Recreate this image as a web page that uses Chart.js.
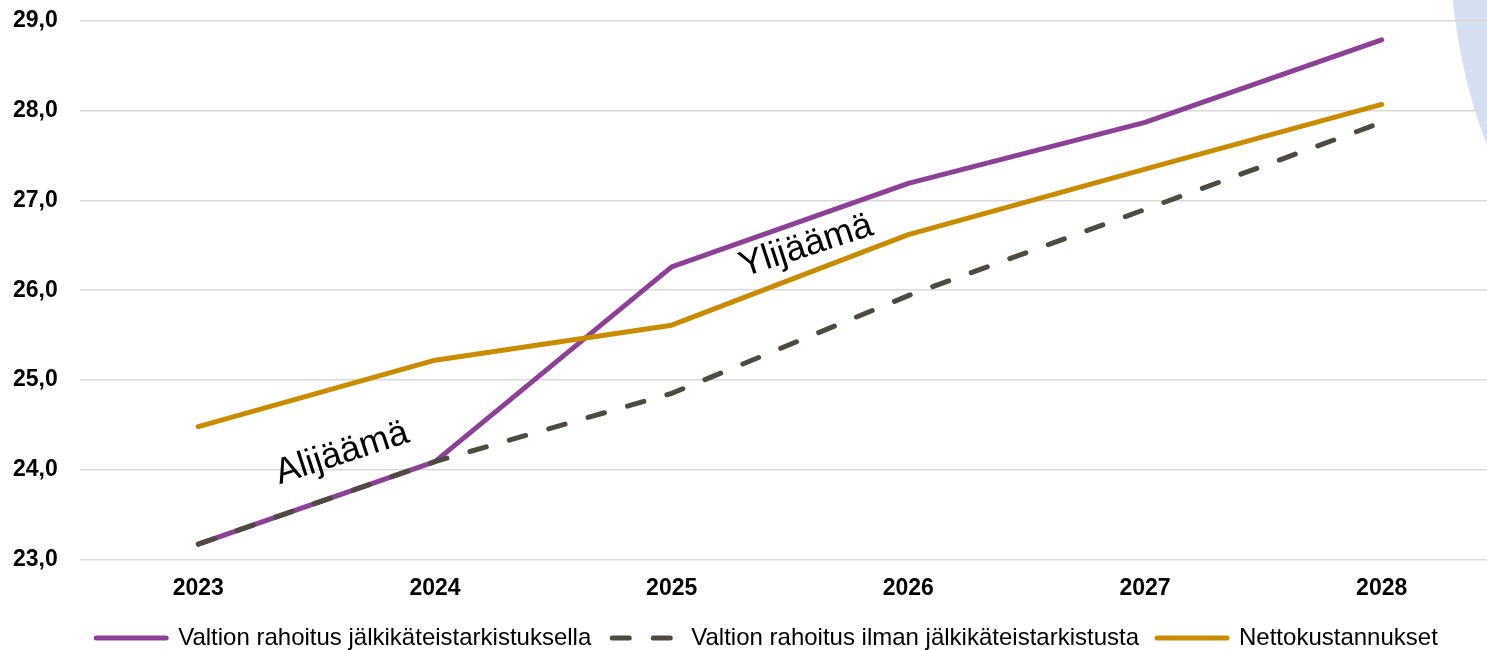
<!DOCTYPE html>
<html>
<head>
<meta charset="utf-8">
<script src="https://cdn.jsdelivr.net/npm/chart.js@4/dist/chart.umd.min.js"></script>
<style>
html,body{margin:0;padding:0;background:#fff;overflow:hidden;width:1487px;height:650px;}
#wrap{width:1500px;height:650px;}
</style>
</head>
<body>
<div id="wrap"><canvas id="c" width="1500" height="650"></canvas></div>
<script>
const categories = ['2023', '2024', '2025', '2026', '2027', '2028'];
const withRevision = [23.17, 24.09, 26.26, 27.19, 27.87, 28.79];
const withoutRevision = [23.17, 24.09, 24.85, 25.94, 26.90, 27.87];
const netCosts = [24.48, 25.22, 25.61, 26.62, 27.35, 28.07];
const seriesNames = ['Valtion rahoitus jälkikäteistarkistuksella', 'Valtion rahoitus ilman jälkikäteistarkistusta', 'Nettokustannukset'];
const yTicks = { min: 23, max: 29, step: 1 };
const annotations = [
  { text: 'Alijäämä', x: 0.607, y: 24.18 },
  { text: 'Ylijäämä', x: 2.568, y: 26.49 }
];

const FONT = '"Liberation Sans", Arial, sans-serif';

const bgShape = {
  id: 'bgShape',
  beforeDraw(chart) {
    const ctx = chart.ctx;
    ctx.save();
    ctx.fillStyle = '#D6DEF2';
    ctx.beginPath();
    ctx.ellipse(1700, -60, 250, 392, 0, 0, Math.PI * 2);
    ctx.fill();
    ctx.restore();
  }
};

const labelsPlugin = {
  id: 'labelsPlugin',
  afterDatasetsDraw(chart) {
    const ctx = chart.ctx;
    const xs = chart.scales.x, ys = chart.scales.y;
    ctx.save();
    ctx.fillStyle = '#000';
    ctx.font = '36px ' + FONT;
    ctx.textAlign = 'center';
    ctx.textBaseline = 'middle';
    annotations.forEach(a => {
      ctx.save();
      ctx.translate(xs.getPixelForValue(a.x), ys.getPixelForValue(a.y));
      ctx.rotate(-18 * Math.PI / 180);
      ctx.fillText(a.text, 0, 0);
      ctx.restore();
    });
    ctx.restore();
  }
};

new Chart(document.getElementById('c'), {
  type: 'line',
  data: {
    labels: categories,
    datasets: [
      { label: seriesNames[0], data: withRevision, borderColor: '#8C4196', backgroundColor: '#8C4196', borderWidth: 5, order: 3, borderCapStyle: 'round', borderJoinStyle: 'round' },
      { label: seriesNames[1], data: withoutRevision, borderColor: '#4F4A3F', backgroundColor: '#4F4A3F', borderWidth: 5, borderDash: [17, 24], order: 2, borderCapStyle: 'round', borderJoinStyle: 'round' },
      { label: seriesNames[2], data: netCosts, borderColor: '#C98C00', backgroundColor: '#C98C00', borderWidth: 5, order: 1, borderCapStyle: 'round', borderJoinStyle: 'round' }
    ]
  },
  options: {
    responsive: false,
    animation: false,
    elements: { point: { radius: 0, hoverRadius: 0 }, line: { tension: 0 } },
    layout: { padding: { left: 34, right: 0, top: 21, bottom: -10 } },
    plugins: {
      tooltip: { enabled: false },
      legend: {
        position: 'bottom',
        labels: {
          font: { family: FONT, size: 24 },
          color: '#000',
          usePointStyle: true,
          pointStyle: 'line',
          pointStyleWidth: 70,
          boxHeight: 24,
          padding: 18,
          generateLabels(chart) {
            return chart.data.datasets.map((ds, i) => ({
              text: ds.label,
              fillStyle: ds.borderColor,
              strokeStyle: ds.borderColor,
              lineWidth: 5,
              lineDash: ds.borderDash ? [17, 24] : [],
              lineDashOffset: -3,
              lineCap: 'round',
              pointStyle: 'line',
              fontColor: '#000',
              datasetIndex: i,
              hidden: false
            }));
          }
        }
      }
    },
    scales: {
      x: {
        offset: true,
        afterFit(scale) { scale.height = scale.height - 9; },
        grid: { display: false, drawTicks: false },
        border: { display: false },
        ticks: { font: { family: FONT, size: 23, weight: 'bold' }, color: '#000', padding: 15 }
      },
      y: {
        min: yTicks.min,
        max: yTicks.max,
        afterFit(scale) { scale.width = 46; },
        grid: { color: '#D9D9D9', lineWidth: 1.5, drawTicks: false },
        border: { display: false },
        ticks: {
          stepSize: yTicks.step,
          mirror: true,
          padding: -67,
          font: { family: FONT, size: 23, weight: 'bold' },
          color: '#000',
          callback: v => v.toFixed(1).replace('.', ',')
        }
      }
    }
  },
  plugins: [bgShape, labelsPlugin]
});
</script>
</body>
</html>
